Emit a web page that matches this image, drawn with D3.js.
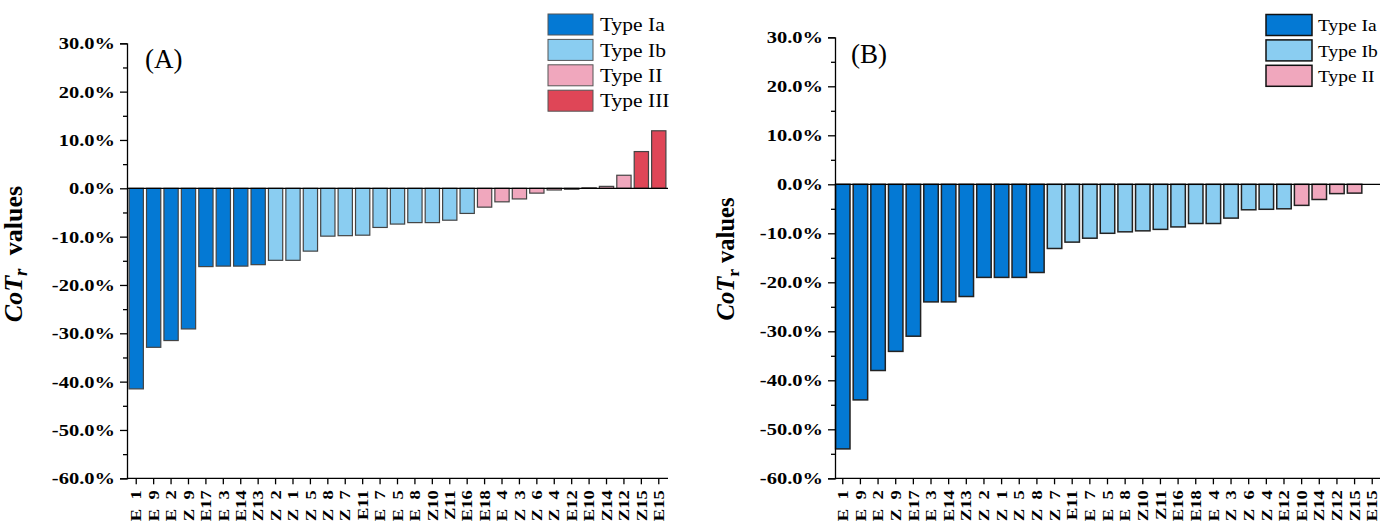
<!DOCTYPE html>
<html>
<head>
<meta charset="utf-8">
<script src="https://cdn.jsdelivr.net/npm/d3@7"></script>
<style>
  body { margin: 0; background: #fff; }
  text { font-family: "Liberation Serif", "Times New Roman", serif; white-space: pre; }
</style>
</head>
<body>
<svg id="chart" width="1381" height="523"></svg>
<script>
// sample names, same order in both panels
var categories = ["E 1","E 9","E 2","Z 9","E17","E 3","E14","Z13","Z 2","Z 1","Z 5","Z 8","Z 7","E11","E 7",
  "E 5","E 8","Z10","Z11","E16","E18","E 4","Z 3","Z 6","Z 4","E12","E10","Z14","Z12","Z15","E15"];

// panel A values (%)
var valuesA = [-41.5,-32.9,-31.5,-29.1,-16.2,-16.1,-16.1,-15.8,-14.9,-14.9,-13.0,-9.9,-9.8,-9.7,-8.1,
  -7.4,-7.1,-7.1,-6.6,-5.2,-3.9,-2.8,-2.2,-1.0,-0.35,-0.2,0.1,0.4,2.7,7.6,11.9];
var typesA = ["Type Ia","Type Ia","Type Ia","Type Ia","Type Ia","Type Ia","Type Ia","Type Ia",
  "Type Ib","Type Ib","Type Ib","Type Ib","Type Ib","Type Ib","Type Ib","Type Ib","Type Ib","Type Ib","Type Ib","Type Ib",
  "Type II","Type II","Type II","Type II","Type II","Type II","Type II","Type II","Type II",
  "Type III","Type III"];

// panel B values (%) - E15 has no bar
var valuesB = [-54.0,-44.0,-38.0,-34.1,-31.0,-24.0,-24.0,-22.9,-19.0,-19.0,-19.0,-18.0,-13.1,-11.8,-11.0,
  -10.0,-9.7,-9.5,-9.2,-8.7,-8.0,-8.0,-6.9,-5.2,-5.1,-5.0,-4.3,-3.1,-1.9,-1.8,null];
var typesB = ["Type Ia","Type Ia","Type Ia","Type Ia","Type Ia","Type Ia","Type Ia","Type Ia","Type Ia","Type Ia","Type Ia","Type Ia",
  "Type Ib","Type Ib","Type Ib","Type Ib","Type Ib","Type Ib","Type Ib","Type Ib","Type Ib","Type Ib","Type Ib","Type Ib","Type Ib","Type Ib",
  "Type II","Type II","Type II","Type II","Type II"];

var legendA = ["Type Ia","Type Ib","Type II","Type III"];
var legendB = ["Type Ia","Type Ib","Type II"];

var yTicks = [30,20,10,0,-10,-20,-30,-40,-50,-60];
var yMinor = [25,15,5,-5,-15,-25,-35,-45,-55];

var typeColors = {
  "Type Ia": "#0479d4",
  "Type Ib": "#8acdf1",
  "Type II": "#f0a7bd",
  "Type III": "#df4657"
};

var svg = d3.select("#chart");

function drawPanel(opt) {
  var g = svg.append("g");

  var x = d3.scaleBand()
    .domain(categories)
    .range([opt.left, opt.right])
    .paddingInner(0.18)
    .paddingOuter(opt.padOuter);

  var y = d3.scaleLinear().domain([-60, 30]).range([opt.bottom, opt.top]);

  var rows = opt.values.map(function(v, i) {
    return { name: categories[i], value: v, type: opt.types[i] };
  }).filter(function(d) { return d.value !== null; });

  // bars
  g.selectAll("rect.bar")
    .data(rows)
    .enter().append("rect")
    .attr("class", "bar")
    .attr("x", function(d) { return x(d.name); })
    .attr("width", x.bandwidth())
    .attr("y", function(d) { return y(Math.max(0, d.value)); })
    .attr("height", function(d) { return Math.abs(y(d.value) - y(0)); })
    .attr("fill", function(d) { return typeColors[d.type]; })
    .attr("stroke", opt.barStroke)
    .attr("stroke-width", opt.barStrokeWidth);

  // zero line
  g.append("line")
    .attr("x1", opt.left).attr("x2", opt.right)
    .attr("y1", y(0)).attr("y2", y(0))
    .attr("stroke", "#000").attr("stroke-width", 1.3);

  // y axis, major and minor ticks
  var ya = g.append("g")
    .attr("transform", "translate(" + opt.left + ",0)")
    .call(d3.axisLeft(y).tickValues(yTicks).tickSize(7).tickPadding(5)
      .tickFormat(function(d) { return d.toFixed(1) + "%"; }));
  g.append("g")
    .attr("transform", "translate(" + opt.left + ",0)")
    .call(d3.axisLeft(y).tickValues(yMinor).tickSize(4).tickFormat(""))
    .select(".domain").remove();

  ya.selectAll("text")
    .attr("font-size", 20.5)
    .attr("font-weight", "bold")
    .attr("transform", "scale(1,0.86)")
    .attr("fill", "#000");

  // x axis
  var xa = g.append("g")
    .attr("transform", "translate(0," + opt.bottom + ")")
    .call(d3.axisBottom(x).tickSize(6).tickSizeOuter(0)
      .tickFormat(function(d) { return d.replace(" ", "\u2007"); }));
  xa.select(".domain").attr("d", "M" + opt.left + ",0H" + opt.right);
  xa.selectAll("text")
    .attr("transform", "rotate(-90) scale(1,0.8)")
    .attr("x", -12)
    .attr("y", 0)
    .attr("dy", "0.35em")
    .attr("text-anchor", "end")
    .attr("font-size", 18.5)
    .attr("font-weight", "bold")
    .attr("fill", "#000");

  g.selectAll(".domain, .tick line").attr("stroke", "#000").attr("stroke-width", 1.3);

  // y title
  var title = g.append("text")
    .attr("transform", "translate(" + opt.titleX + "," + opt.titleY + ") rotate(-90)")
    .attr("text-anchor", "middle")
    .attr("font-size", opt.titleSize)
    .attr("font-weight", "bold")
    .attr("fill", "#000");
  title.append("tspan").attr("font-style", "italic").text("CoT");
  title.append("tspan").attr("font-style", opt.subItalic ? "italic" : "normal")
    .attr("font-size", opt.titleSize * 0.72).attr("dy", 5).text("r");
  title.append("tspan").attr("dy", -5).attr("dx", opt.titleGap).text(" values");

  // panel label
  g.append("text")
    .attr("x", opt.labelX).attr("y", opt.labelY)
    .attr("font-size", 27)
    .attr("fill", "#000")
    .text(opt.label);

  // legend
  var lg = g.append("g").attr("transform", "translate(" + opt.legendX + "," + opt.legendY + ")");
  var item = lg.selectAll("g.item")
    .data(opt.legend)
    .enter().append("g")
    .attr("class", "item")
    .attr("transform", function(d, i) { return "translate(0," + (i * 25.4) + ")"; });
  item.append("rect")
    .attr("width", opt.swatchWidth).attr("height", 21)
    .attr("fill", function(d) { return typeColors[d]; })
    .attr("stroke", opt.legendStroke)
    .attr("stroke-width", opt.legendStrokeWidth);
  item.append("text")
    .attr("transform", "translate(" + (opt.swatchWidth + opt.legendGap) + ",10.5) scale(1,0.9)")
    .attr("dy", "0.35em")
    .attr("font-size", opt.legendFont)
    .attr("fill", "#000")
    .text(function(d) { return d; });
}

drawPanel({
  values: valuesA, types: typesA, legend: legendA,
  left: 127, right: 668, top: 43.3, bottom: 478.3, padOuter: 0.12,
  barStroke: "#444", barStrokeWidth: 1.2,
  titleX: 22, titleY: 254, titleSize: 26, subItalic: true, titleGap: 7,
  label: "(A)", labelX: 145, labelY: 68,
  legendX: 548, legendY: 14, swatchWidth: 45, legendStroke: "#555", legendStrokeWidth: 1,
  legendGap: 7, legendFont: 21.5
});

drawPanel({
  values: valuesB, types: typesB, legend: legendB,
  left: 835, right: 1380, top: 37.3, bottom: 478.3, padOuter: 0.03,
  barStroke: "#222", barStrokeWidth: 1.5,
  titleX: 734, titleY: 259, titleSize: 24.5, subItalic: false, titleGap: 0,
  label: "(B)", labelX: 851, labelY: 63,
  legendX: 1266, legendY: 14.5, swatchWidth: 46, legendStroke: "#111", legendStrokeWidth: 1.5,
  legendGap: 6, legendFont: 19.5
});
</script>
</body>
</html>
